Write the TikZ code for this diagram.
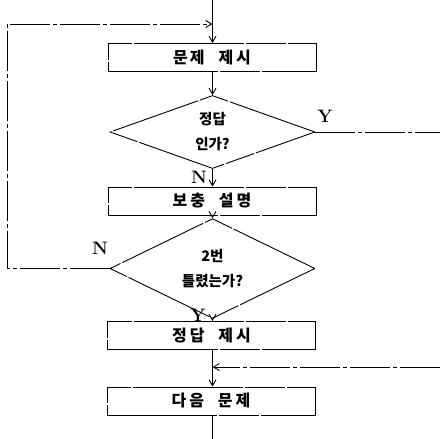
\documentclass[tikz,border=0pt]{standalone}
\usepackage{fontspec}
\newfontfamily\kr{Noto Sans CJK KR}
\usetikzlibrary{shapes.geometric,arrows.meta}
\begin{document}
\begin{tikzpicture}[x=1pt,y=-1pt,
  line width=0.9pt,
  >={Straight Barb[length=6pt,width=7pt]},
  procbox/.style={draw, dash pattern=on 110pt off 2pt on 40pt off 2pt, minimum width=208pt, minimum height=28pt, inner sep=0pt, font=\kr\bfseries\fontsize{16}{18}\selectfont},
  decision/.style={draw, diamond, dash pattern=on 90pt off 2pt on 30pt off 2pt, minimum width=205pt, minimum height=67pt, inner sep=0pt, align=center, font=\kr\bfseries\fontsize{14.5}{25}\selectfont},
  flow/.style={->},
  loopline/.style={dash pattern=on 40pt off 3pt on 4pt off 3pt},
  yn/.style={font=\bfseries\fontsize{18}{20}\selectfont}
]
\useasboundingbox (0,0) rectangle (440,439);

\node[procbox] (b1) at (212,57.5) {문\hspace{2pt}제\hspace{14pt}제\hspace{3pt}시};
\node[decision] (d1) at (212.5,132) {정답\\인가?};
\node[procbox] (b2) at (212,201) {보\hspace{3pt}충\hspace{14pt}설\hspace{3pt}명};
\node[decision] (d2) at (212.5,268.5) {2번\\틀렸는가?};
\node[procbox] (b3) at (211.5,335.5) {정\hspace{3pt}답\hspace{14pt}제\hspace{3pt}시};
\node[procbox] (b4) at (211,401) {다\hspace{3pt}음\hspace{14pt}문\hspace{3pt}제};

\coordinate (top) at (212.5,0);
\coordinate (join) at (212.5,24);
\coordinate (lc) at (7,24);
\coordinate (yend) at (440,132);
\coordinate (inend) at (440,367);
\coordinate (m) at (212.5,367);
\coordinate (bot) at (212.5,439);

\draw (top) -- (join);
\draw[flow] (join) -- (b1.north -| join);
\draw[flow] (b1.south -| d1.north) -- (d1.north);
\draw[flow] (d1.south) -- (b2.north -| d1.south);
\draw[flow] (b2.south -| d2.north) -- (d2.north);
\draw[flow] (d2.south) -- (b3.north -| d2.south);
\draw (b3.south -| m) -- (m);
\draw[flow] (m) -- (b4.north -| m);
\draw (b4.south -| bot) -- (bot);

\draw[loopline,->] (d2.west) -| (lc) -- (join);
\draw[loopline] (d1.east) -- (yend);
\draw[loopline,->] (inend) -- (m);

\node[yn] (ly1) at (325,116) {Y};
\node[yn] (ln1) at (199,177) {N};
\node[yn] (ln2) at (100,248) {N};
\node[yn] (ly2) at (198,315.5) {Y};
\end{tikzpicture}
\end{document}
